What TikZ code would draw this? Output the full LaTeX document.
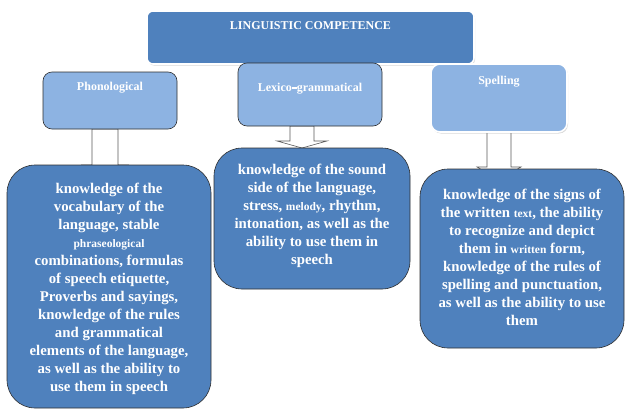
\documentclass[tikz,border=0pt]{standalone}
\usepackage{fontspec}
\setmainfont{Liberation Serif}
\usetikzlibrary{shadows,calc}
\definecolor{dblue}{HTML}{4F81BD}
\definecolor{lblue}{HTML}{8DB3E2}
\definecolor{edgec}{HTML}{2E2E2E}
\newcommand{\sm}[1]{{\fontsize{11.5}{18}\selectfont #1}}
\begin{document}
\begin{tikzpicture}[x=1pt,y=-1pt,
  headbox/.style={draw=white, line width=1.6pt, rounded corners=6pt, fill=dblue,
    drop shadow={shadow xshift=1pt, shadow yshift=-1.5pt, opacity=0.3}},
  subbox/.style={draw=edgec, line width=0.6pt, rounded corners=9pt, fill=lblue},
  subwbox/.style={draw=white, line width=1.6pt, rounded corners=9pt, fill=lblue,
    drop shadow={shadow xshift=1pt, shadow yshift=-1.5pt, opacity=0.3}},
  bigbox/.style={draw=edgec, line width=0.6pt, rounded corners=28pt, fill=dblue},
  bigtext/.style={text=white, font=\bfseries\fontsize{14.8}{18}\selectfont, align=center, inner sep=0pt},
  headtext/.style={text=white, font=\bfseries\fontsize{12}{13}\selectfont, inner sep=0pt},
  barrow/.style={draw=gray!70!black, fill=white, line width=0.6pt}]
\useasboundingbox (0,0) rectangle (625,410);

% anchor coordinates for arrows
\coordinate (pa) at (105,129);
\coordinate (la) at (302,126);
\coordinate (sa) at (499,132);

% block arrows (drawn first, behind boxes)
\draw[barrow] ($(pa)+(-13,0)$) -- ($(pa)+(-13,36)$) -- ($(pa)+(-23,36)$) -- ($(pa)+(0,50)$)
  -- ($(pa)+(23,36)$) -- ($(pa)+(13,36)$) -- ($(pa)+(13,0)$) -- cycle;
\draw[barrow] ($(la)+(-12,0)$) -- ($(la)+(-12,15)$) -- ($(la)+(-25,15)$) -- ($(la)+(0,22)$)
  -- ($(la)+(25,15)$) -- ($(la)+(12,15)$) -- ($(la)+(12,0)$) -- cycle;
\draw[barrow] ($(sa)+(-12,0)$) -- ($(sa)+(-12,35)$) -- ($(sa)+(-22,35)$) -- ($(sa)+(0,48)$)
  -- ($(sa)+(22,35)$) -- ($(sa)+(12,35)$) -- ($(sa)+(12,0)$) -- cycle;

% top box
\node[headbox, minimum width=327pt, minimum height=53pt] (top) at (310.5,37.5) {};
\node[headtext] (toptx) at (310.5,26) {LINGUISTIC COMPETENCE};

% sub boxes
\node[subbox, minimum width=134pt, minimum height=57pt] (ph) at (110,100.5) {};
\node[headtext] (phtx) at (110,88) {Phonological};
\node[subbox, minimum width=144pt, minimum height=63pt] (lx) at (310,94.5) {};
\node[headtext] (lxtx) at (310,89) {Lexico\rule[2.8pt]{5pt}{2.2pt}grammatical};
\node[subwbox, minimum width=136pt, minimum height=68pt] (sp) at (499,98) {};
\node[headtext] (sptx) at (499,82) {Spelling};

% big boxes
\node[bigbox, minimum width=204pt, minimum height=243pt] (b1) at (109,286.5) {};
\node[bigtext] (t1) at (109,289) {knowledge of the\\ vocabulary of the\\ language, stable\\ \sm{phraseological}\\ combinations, formulas\\ of speech etiquette,\\ Proverbs and sayings,\\ knowledge of the rules\\ and grammatical\\ elements of the language,\\ as well as the ability to\\ use them in speech};

\node[bigbox, minimum width=196pt, minimum height=141pt] (b2) at (312,218.5) {};
\node[bigtext] (t2) at (312,216) {knowledge of the sound\\ side of the language,\\ stress, \sm{melody}, rhythm,\\ intonation, as well as the\\ ability to use them in\\ speech};

\node[bigbox, minimum width=204pt, minimum height=179pt] (b3) at (522,258.5) {};
\node[bigtext] (t3) at (522,257) {knowledge of the signs of\\ the written \sm{text}, the ability\\ to recognize and depict\\ them in \sm{written} form,\\ knowledge of the rules of\\ spelling and punctuation,\\ as well as the ability to use\\ them};
\end{tikzpicture}
\end{document}
